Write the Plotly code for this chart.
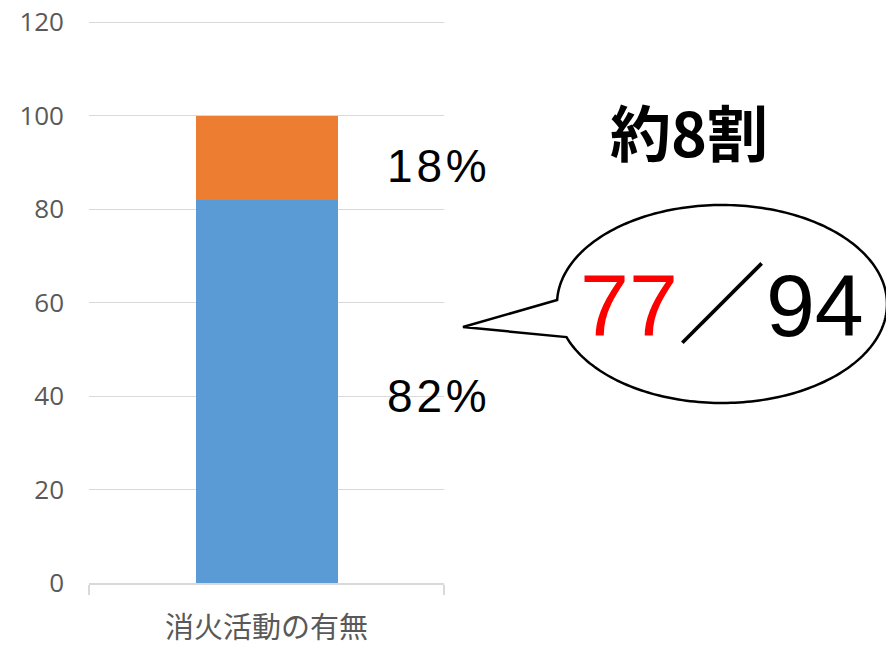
import numpy as np
import plotly.graph_objects as go

# ---- data ----
categories = ["消火活動の有無"]
yes_values = [82]   # 消火活動あり (%)
no_values = [18]    # なし (%)
label_yes = "82%"
label_no = "18%"
headline = "約8割"
count_num = "77"
count_den = "94"
y_ticks = [0, 20, 40, 60, 80, 100, 120]

W, H = 886, 646
L, R, T, B = 89, 442, 19, 63
PW, PH = W - L - R, H - T - B
Y_MAX = 120 + 3 / (561 / 120)  # small headroom so the 120 gridline is drawn


def px(x):
    return (x - L) / PW


def py(y):
    return (H - B - y) / PH


def spaced(s):
    return "\u200a".join(s)


fig = go.Figure()
fig.add_trace(go.Bar(x=categories, y=yes_values, marker_color="#5B9BD5", width=0.4,
                     showlegend=False, hoverinfo="skip", marker_line_width=0))
fig.add_trace(go.Bar(x=categories, y=no_values, marker_color="#ED7D31", width=0.4,
                     showlegend=False, hoverinfo="skip", marker_line_width=0))

fig.update_layout(
    barmode="stack",
    width=W, height=H,
    margin=dict(l=L, r=R, t=T, b=B, pad=0, autoexpand=False),
    paper_bgcolor="white", plot_bgcolor="white",
    font=dict(family="Open Sans, Noto Sans CJK JP, sans-serif", color="#595959"),
)
fig.update_yaxes(range=[0, Y_MAX], tickvals=y_ticks, showgrid=True, gridcolor="#D9D9D9",
                 gridwidth=1, zeroline=False, showline=False, automargin=False,
                 tickfont=dict(size=26, color="#595959"), ticks="", ticklabelstandoff=24)
fig.update_xaxes(range=[-0.5, 0.5], showgrid=False, zeroline=False, showline=True,
                 automargin=False,
                 linecolor="#D9D9D9", linewidth=2, ticks="outside", tickson="boundaries",
                 ticklen=10, tickcolor="#D9D9D9", tickwidth=2, ticklabelstandoff=18,
                 tickfont=dict(size=29, color="#595959",
                               family="Noto Sans CJK JP, sans-serif"))

ann_font = dict(family="Liberation Sans, Arial, sans-serif", color="black", size=46)
fig.add_annotation(xref="paper", yref="paper", x=px(437), y=py(166), text=spaced(label_no),
                   showarrow=False, font=ann_font, xanchor="center", yanchor="middle")
fig.add_annotation(xref="paper", yref="paper", x=px(437), y=py(396), text=spaced(label_yes),
                   showarrow=False, font=ann_font, xanchor="center", yanchor="middle")
fig.add_annotation(xref="paper", yref="paper", x=px(689), y=py(131), text="<b>" + headline + "</b>",
                   showarrow=False, xanchor="center", yanchor="middle",
                   font=dict(family="Noto Sans CJK JP, sans-serif", color="black", size=61))
fig.add_annotation(xref="paper", yref="paper", x=px(722), y=py(305),
                   text="<span style='color:#FF0000'>" + count_num + "</span>／" + count_den,
                   showarrow=False, xanchor="center", yanchor="middle",
                   font=dict(family="Liberation Sans, Arial, Noto Sans CJK JP, sans-serif",
                             color="black", size=88))

# speech bubble (ellipse with tail)
cx, cy, rx, ry = 722, 304, 165, 99
a1 = np.arctan2((300 - cy) / ry, (558 - cx) / rx)
a2 = np.arctan2((337 - cy) / ry, (567 - cx) / rx)
if a1 > a2:
    a1 -= 2 * np.pi
ts = np.linspace(a2, a1, 240)
pts = [(cx + rx * np.cos(t), cy + ry * np.sin(t)) for t in ts]
pts.append((463, 327))
path = "M " + " L ".join(f"{px(x):.5f},{py(y):.5f}" for x, y in pts) + " Z"
fig.add_shape(type="path", xref="paper", yref="paper", path=path,
              line=dict(color="black", width=2.5), fillcolor="rgba(0,0,0,0)", layer="below")

fig.write_html("out.html")
